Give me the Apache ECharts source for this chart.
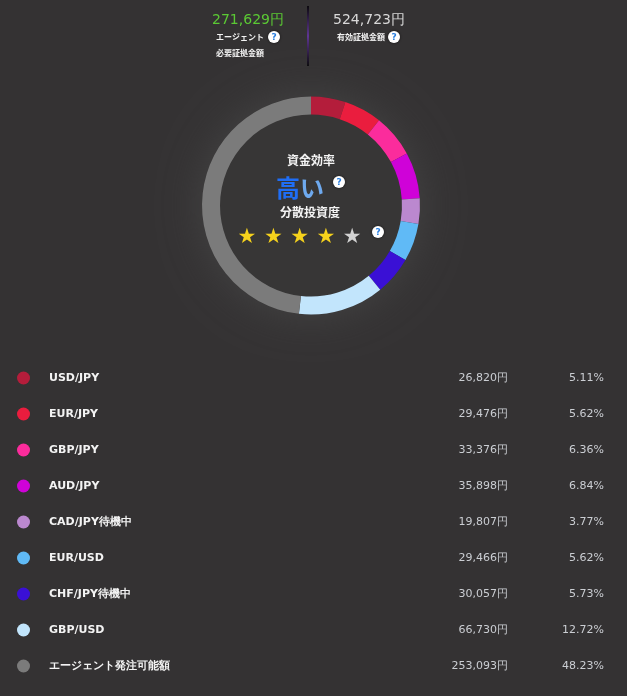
<!DOCTYPE html>
<html>
<head>
<meta charset="utf-8">
<script src="https://cdn.jsdelivr.net/npm/echarts@6/dist/echarts.min.js"></script>
<style>
  html, body { margin: 0; padding: 0; background: #343233; }
  #chart { width: 627px; height: 696px; }
</style>
</head>
<body>
<div id="chart"></div>
<script>
// margin breakdown (yen) and share of effective margin
const categories = ['USD/JPY', 'EUR/JPY', 'GBP/JPY', 'AUD/JPY', 'CAD/JPY待機中', 'EUR/USD', 'CHF/JPY待機中', 'GBP/USD', 'エージェント発注可能額'];
const amounts = [26820, 29476, 33376, 35898, 19807, 29466, 30057, 66730, 253093];
const percents = [5.11, 5.62, 6.36, 6.84, 3.77, 5.62, 5.73, 12.72, 48.23];
const colors = ['#b41d3b', '#ea1d3e', '#fb2c9c', '#cf02d8', '#bb88cf', '#60baf6', '#3a10d5', '#c2e5fc', '#7b7b7b'];

// header figures
const requiredMargin = 271629;
const effectiveMargin = 524723;

// centre indicators
const efficiencyLabel = ['高', 'い'];
const diversityStars = 4;
const maxStars = 5;

const yen = v => v.toLocaleString('en-US') + '円';
const numFont = '"DejaVu Sans", sans-serif';
const jpFont = '"Noto Sans CJK JP", sans-serif';

const chart = echarts.init(document.getElementById('chart'));

function helpIcon(x, y) {
  return {
    type: 'group', x: x, y: y,
    children: [
      { type: 'circle', z: 20, shape: { cx: 0, cy: 0, r: 6 },
        style: { fill: '#ffffff', shadowBlur: 3, shadowColor: 'rgba(0,0,0,0.6)' } },
      { type: 'text', z: 21, style: { text: '?', x: 0, y: 0.5, fill: '#2b7fe0', font: 'bold 9px ' + numFont,
        textAlign: 'center', textVerticalAlign: 'middle' } }
    ]
  };
}

const stars = [];
for (let i = 0; i < maxStars; i++) {
  stars.push({
    type: 'text', x: 247 + i * 26.3, y: 238, z: 20,
    style: { text: '★', fill: i < diversityStars ? '#f6d21c' : '#d2d2d2', font: '21px ' + numFont,
      textAlign: 'center', textVerticalAlign: 'middle', shadowBlur: 2, shadowColor: 'rgba(0,0,0,0.5)' }
  });
}

const option = {
  backgroundColor: '#343233',
  animation: false,
  legend: {
    orient: 'vertical',
    left: 17,
    top: 371.5,
    padding: 0,
    itemWidth: 13,
    itemHeight: 13,
    itemGap: 23,
    icon: 'circle',
    selectedMode: false,
    data: categories,
    formatter: name => {
      const i = categories.indexOf(name);
      return '{s|}{n|' + name + '}{v|' + yen(amounts[i]) + '}{p|' + percents[i].toFixed(2) + '%}';
    },
    textStyle: {
      rich: {
        s: { width: 14, lineHeight: 13 },
        n: { width: 300, lineHeight: 13, fontSize: 11, fontWeight: 'bold', color: '#f3f3f3', fontFamily: numFont },
        v: { width: 159, lineHeight: 13, align: 'right', fontSize: 11, color: '#cbced3', fontFamily: numFont },
        p: { width: 96, lineHeight: 13, align: 'right', fontSize: 11, color: '#cbced3', fontFamily: numFont }
      }
    }
  },
  series: [
    {
      // faint light glow around the ring
      type: 'pie', silent: true, z: 1,
      center: [311, 205.5], radius: [0, 109],
      label: { show: false },
      itemStyle: { color: '#373636', shadowBlur: 40, shadowColor: 'rgba(70,70,70,0.85)' },
      data: [{ value: 1, name: 'halo' }]
    },
    {
      type: 'pie', z: 2,
      center: [311, 205.5], radius: [91, 109],
      startAngle: 90,
      clockwise: true,
      label: { show: false },
      labelLine: { show: false },
      emphasis: { disabled: true },
      itemStyle: { borderWidth: 0 },
      data: categories.map((c, i) => ({ name: c, value: amounts[i], itemStyle: { color: colors[i] } }))
    }
  ],
  graphic: [
    { type: 'text', x: 248, y: 20, style: { text: yen(requiredMargin), fill: '#5bc934', font: '14px ' + numFont, textAlign: 'center', textVerticalAlign: 'middle' } },
    { type: 'text', x: 240, y: 37, style: { text: 'エージェント', fill: '#f2f2f2', font: 'bold 8px ' + jpFont, textAlign: 'center', textVerticalAlign: 'middle' } },
    helpIcon(274, 37),
    { type: 'text', x: 240, y: 53, style: { text: '必要証拠金額', fill: '#f2f2f2', font: 'bold 8px ' + jpFont, textAlign: 'center', textVerticalAlign: 'middle' } },
    { type: 'rect', shape: { x: 307, y: 6, width: 2, height: 60 },
      style: { fill: new echarts.graphic.LinearGradient(0, 0, 0, 1, [
        { offset: 0, color: '#0c0a0e' }, { offset: 0.5, color: '#5e3692' }, { offset: 1, color: '#0c0a0e' }]) } },
    { type: 'text', x: 369, y: 20, style: { text: yen(effectiveMargin), fill: '#d8d8d8', font: '14px ' + numFont, textAlign: 'center', textVerticalAlign: 'middle' } },
    { type: 'text', x: 361, y: 37, style: { text: '有効証拠金額', fill: '#f2f2f2', font: 'bold 8px ' + jpFont, textAlign: 'center', textVerticalAlign: 'middle' } },
    helpIcon(394, 37),

    { type: 'text', x: 311, y: 160, z: 20, style: { text: '資金効率', fill: '#f4f4f4', font: 'bold 12px ' + jpFont, textAlign: 'center', textVerticalAlign: 'middle' } },
    { type: 'text', x: 300, y: 188, z: 20, style: {
      text: '{a|' + efficiencyLabel[0] + '}{b|' + efficiencyLabel[1] + '}',
      textAlign: 'center', textVerticalAlign: 'middle',
      rich: {
        a: { fontSize: 24, fontWeight: 'bold', fontFamily: jpFont, fill: '#1f6ef6' },
        b: { fontSize: 24, fontWeight: 'bold', fontFamily: jpFont, fill: '#6ea9ee' }
      } } },
    helpIcon(339, 182),
    { type: 'text', x: 310, y: 212, z: 20, style: { text: '分散投資度', fill: '#f4f4f4', font: 'bold 12px ' + jpFont, textAlign: 'center', textVerticalAlign: 'middle' } },
    ...stars,
    helpIcon(378, 232)
  ]
};

chart.setOption(option);
</script>
</body>
</html>
